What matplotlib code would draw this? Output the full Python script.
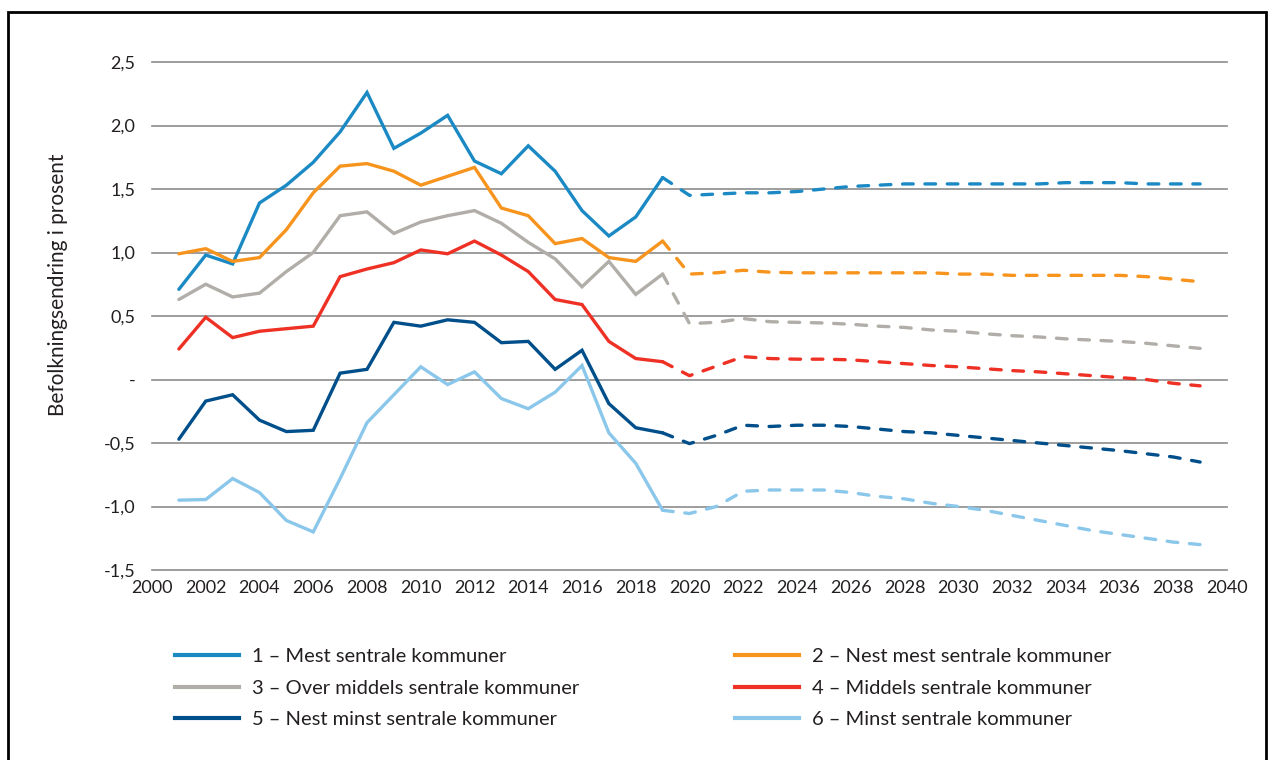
import matplotlib
matplotlib.use("Agg")
import matplotlib.pyplot as plt
from matplotlib.lines import Line2D
from matplotlib.patches import Rectangle

plt.rcParams['font.family'] = ['Lato', 'DejaVu Sans']

# ---------------- data ----------------
hist_years = list(range(2001, 2020))
proj_years = list(range(2020, 2040))

labels = [
    "1 – Mest sentrale kommuner",
    "2 – Nest mest sentrale kommuner",
    "3 – Over middels sentrale kommuner",
    "4 – Middels sentrale kommuner",
    "5 – Nest minst sentrale kommuner",
    "6 – Minst sentrale kommuner",
]
colors = ["#1b8ac4", "#f7941d", "#b1ada8", "#ee3124", "#004f8a", "#8ac7eb"]

hist_1 = [0.71, 0.98, 0.91, 1.39, 1.53, 1.71, 1.95, 2.26, 1.82, 1.94, 2.08, 1.72, 1.62, 1.84, 1.64, 1.33, 1.13, 1.28, 1.59]
hist_2 = [0.99, 1.03, 0.93, 0.96, 1.18, 1.47, 1.68, 1.70, 1.64, 1.53, 1.60, 1.67, 1.35, 1.29, 1.07, 1.11, 0.96, 0.93, 1.09]
hist_3 = [0.63, 0.75, 0.65, 0.68, 0.85, 1.00, 1.29, 1.32, 1.15, 1.24, 1.29, 1.33, 1.23, 1.08, 0.95, 0.73, 0.93, 0.67, 0.83]
hist_4 = [0.24, 0.49, 0.33, 0.38, 0.40, 0.42, 0.81, 0.87, 0.92, 1.02, 0.99, 1.09, 0.98, 0.85, 0.63, 0.59, 0.30, 0.165, 0.14]
hist_5 = [-0.47, -0.17, -0.12, -0.32, -0.41, -0.40, 0.05, 0.08, 0.45, 0.42, 0.47, 0.45, 0.29, 0.30, 0.08, 0.23, -0.19, -0.38, -0.42]
hist_6 = [-0.95, -0.945, -0.78, -0.89, -1.11, -1.20, -0.78, -0.34, -0.12, 0.10, -0.04, 0.06, -0.15, -0.23, -0.10, 0.11, -0.42, -0.66, -1.03]

proj_1 = [1.45, 1.46, 1.47, 1.47, 1.48, 1.50, 1.52, 1.53, 1.54, 1.54, 1.54, 1.54, 1.54, 1.54, 1.55, 1.55, 1.55, 1.54, 1.54, 1.54]
proj_2 = [0.83, 0.84, 0.86, 0.845, 0.84, 0.84, 0.84, 0.84, 0.84, 0.84, 0.83, 0.83, 0.82, 0.82, 0.82, 0.82, 0.82, 0.81, 0.79, 0.77]
proj_3 = [0.44, 0.45, 0.48, 0.455, 0.45, 0.445, 0.435, 0.42, 0.41, 0.39, 0.38, 0.36, 0.345, 0.335, 0.32, 0.31, 0.30, 0.285, 0.265, 0.245]
proj_4 = [0.03, 0.105, 0.18, 0.165, 0.16, 0.16, 0.155, 0.14, 0.125, 0.11, 0.10, 0.085, 0.07, 0.06, 0.045, 0.03, 0.015, 0.00, -0.03, -0.05]
proj_5 = [-0.505, -0.44, -0.36, -0.37, -0.36, -0.36, -0.37, -0.39, -0.41, -0.42, -0.44, -0.46, -0.48, -0.50, -0.52, -0.54, -0.56, -0.585, -0.61, -0.65]
proj_6 = [-1.055, -1.00, -0.88, -0.87, -0.87, -0.87, -0.89, -0.92, -0.94, -0.975, -1.00, -1.03, -1.07, -1.11, -1.15, -1.19, -1.22, -1.25, -1.28, -1.30]

hist_series = [hist_1, hist_2, hist_3, hist_4, hist_5, hist_6]
proj_series = [proj_1, proj_2, proj_3, proj_4, proj_5, proj_6]

y_ticks = [-1.5, -1.0, -0.5, 0.0, 0.5, 1.0, 1.5, 2.0, 2.5]
y_ticklabels = ["-1,5", "-1,0", "-0,5", "-", "0,5", "1,0", "1,5", "2,0", "2,5"]
x_ticks = list(range(2000, 2041, 2))
y_label = "Befolkningsendring i prosent"

# ---------------- figure ----------------
fig = plt.figure(figsize=(12.7, 7.6), dpi=100)
ax = fig.add_axes([152 / 1270, 1 - 570 / 760, (1227 - 152) / 1270, (570 - 62) / 760])

lw = 2.4
for h, p, c in zip(hist_series, proj_series, colors):
    ax.plot(hist_years, h, color=c, lw=lw, solid_capstyle='round', solid_joinstyle='miter', zorder=3)
    ax.plot([hist_years[-1]] + proj_years, [h[-1]] + p, color=c, lw=lw,
            dashes=(3.2, 3.5), dash_capstyle='round', zorder=3)

ax.set_xlim(2000, 2040)
ax.set_ylim(-1.5, 2.5)
ax.set_yticks(y_ticks)
ax.set_yticklabels(y_ticklabels)
ax.set_xticks(x_ticks)
ax.set_xticklabels([str(x) for x in x_ticks])
ax.tick_params(axis='both', length=0, labelsize=13, colors='#231f20')
ax.tick_params(axis='y', pad=12)
ax.tick_params(axis='x', pad=7)
for s in ax.spines.values():
    s.set_visible(False)
ax.yaxis.grid(True, color='#8c8c8c', lw=1.2, clip_on=False)
ax.xaxis.grid(False)
ax.set_axisbelow(True)

fig.text(58 / 1270, 1 - 285 / 760, y_label, rotation=90, ha='center', va='center',
         fontsize=15, color='#231f20')

# legend in two columns
handles = [Line2D([], [], color=c, lw=3) for c in colors]
leg_kw = dict(frameon=False, fontsize=14.5, handlelength=3.2, handletextpad=0.6,
              labelspacing=0.72, borderpad=0, borderaxespad=0, loc='upper left',
              labelcolor='#231f20')
leg1 = fig.legend([handles[i] for i in (0, 2, 4)], [labels[i] for i in (0, 2, 4)],
                  bbox_to_anchor=(175 / 1270, 1 - 648 / 760), **leg_kw)
leg2 = fig.legend([handles[i] for i in (1, 3, 5)], [labels[i] for i in (1, 3, 5)],
                  bbox_to_anchor=(735 / 1270, 1 - 648 / 760), **leg_kw)

# outer frame
fig.patches.append(Rectangle((8 / 1270, -0.02), (1266 - 8) / 1270, 1.02 - 12 / 760,
                             transform=fig.transFigure, fill=False, edgecolor='black', lw=2))

fig.savefig("out.png", dpi=100)
